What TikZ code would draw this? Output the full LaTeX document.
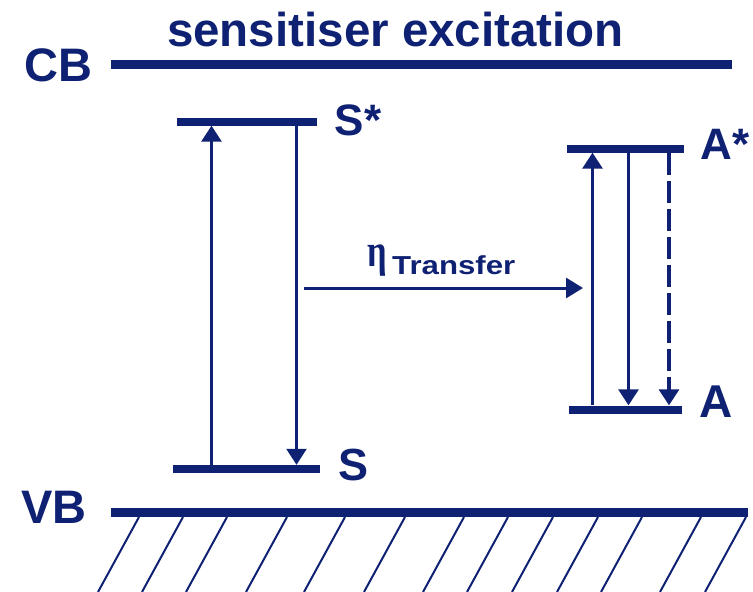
\documentclass[tikz,border=0pt]{standalone}
\usepackage{fontspec}
\setmainfont{Liberation Sans}
\newfontfamily\grkfont{Liberation Serif}
\usetikzlibrary{arrows.meta}
\definecolor{navy}{RGB}{14,33,115}
\tikzset{
  band/.style={fill=navy, draw=none, inner sep=0pt, minimum height=9pt},
  level/.style={fill=navy, draw=none, inner sep=0pt, minimum height=8pt},
  lbl/.style={text=navy, inner sep=0pt, anchor=base west, font=\bfseries\fontsize{45}{45}\selectfont},
  tip/.style={-{Triangle[length=16pt,width=20pt]}},
  arr/.style={draw=navy, line width=3pt, tip},
  thinarr/.style={draw=navy, line width=2.4pt, tip},
  dasharr/.style={draw=navy, line width=3.5pt, dash pattern=on 22pt off 6pt, tip},
  hatch/.style={draw=navy, line width=2pt}
}
\begin{document}
\begin{tikzpicture}[x=1pt, y=-1pt]
\useasboundingbox (0,0) rectangle (753,592);
% title
\node[text=navy, inner sep=0pt, anchor=base, font=\bfseries\fontsize{47.5}{47.5}\selectfont] (title) at (395.5,46) {sensitiser excitation};
% bands
\node[band, minimum width=621pt] (cb) at (421.5,64.5) {};
\node[band, minimum width=637pt] (vb) at (429.5,512.5) {};
\node[lbl, font=\bfseries\fontsize{47}{47}\selectfont] (cblbl) at (24.5,81) {CB};
\node[lbl, font=\bfseries\fontsize{47}{47}\selectfont] (vblbl) at (21,523) {VB};
% hatching under VB
\foreach \xx in {139,183,227,287,345,405,464,508,553,598,642,701,746}{
  \draw[hatch] (\xx,517) -- (\xx-41,592);
}
% sensitiser levels
\node[level, minimum width=140pt] (Sstar) at (247,121.5) {};
\node[level, minimum width=147pt] (S) at (246.5,469) {};
\node[lbl, font=\bfseries\fontsize{44}{44}\selectfont] (Sstarlbl) at (334.5,135) {S*};
\node[lbl] (Slbl) at (338,480) {S};
% acceptor levels
\node[level, minimum width=117pt] (Astar) at (625.5,148.5) {};
\node[level, minimum width=113pt] (A) at (625.5,409.5) {};
\node[lbl, font=\bfseries\fontsize{44}{44}\selectfont] (Astarlbl) at (700.5,159) {A*};
\node[lbl, font=\bfseries\fontsize{46}{46}\selectfont] (Albl) at (699.5,417) {A};
% sensitiser transitions
\draw[arr] ([xshift=-35pt]S.north) -- ([xshift=-35.5pt]Sstar.south);
\draw[thinarr] ([xshift=49.5pt]Sstar.south) -- ([xshift=50pt]S.north);
% acceptor transitions
\draw[arr] ([xshift=-33pt]A.north) -- ([xshift=-33pt]Astar.south);
\draw[arr] ([xshift=3pt]Astar.south) -- ([xshift=3pt]A.north);
\draw[dasharr] ([xshift=43.5pt]Astar.south) -- ([xshift=43.5pt]A.north);
% transfer
\coordinate (t0) at (304,288);
\coordinate (t1) at (583,288);
\draw[arr, -{Triangle[length=17pt,width=20pt]}] (t0) -- (t1);
\node[text=navy, inner sep=0pt, anchor=base west, font=\grkfont\bfseries\fontsize{46}{46}\selectfont] (eta) at (367.5,266) {\scalebox{0.75}[1]{η}};
\node[text=navy, inner sep=0pt, anchor=base west, font=\bfseries\fontsize{26}{26}\selectfont] (trans) at (392,274) {\scalebox{1.2}[1]{Transfer}};
\end{tikzpicture}
\end{document}
